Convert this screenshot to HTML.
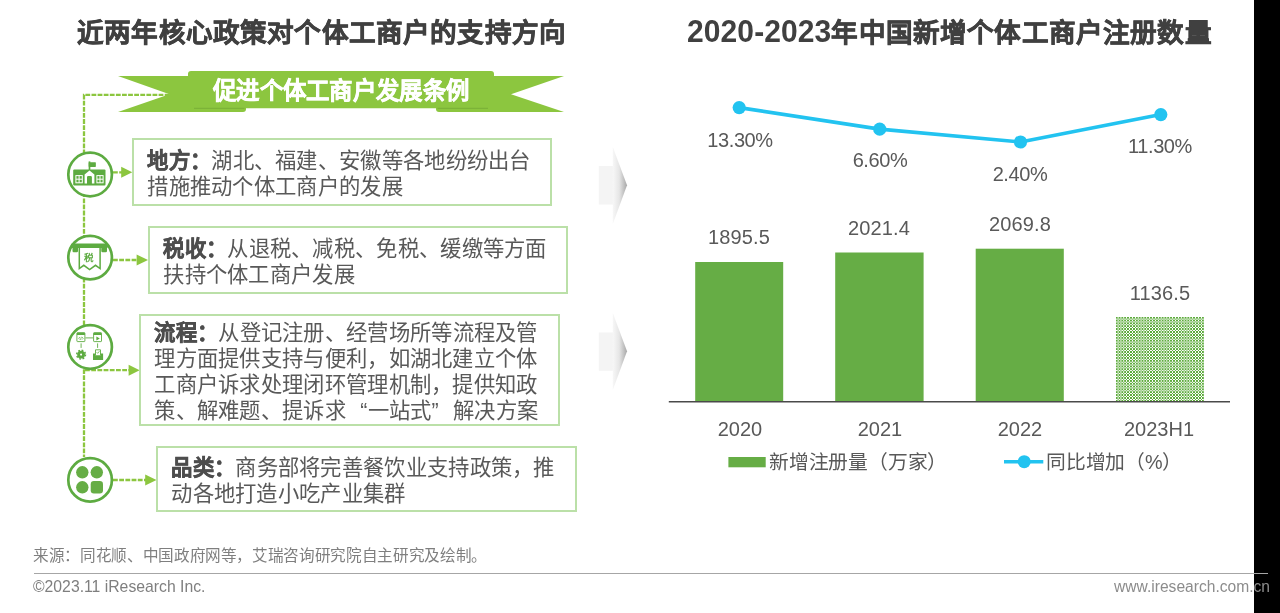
<!DOCTYPE html>
<html lang="zh-CN">
<head>
<meta charset="utf-8">
<title>个体工商户</title>
<style>
html,body{margin:0;padding:0;}
body{width:1280px;height:613px;position:relative;overflow:hidden;background:#fff;font-family:"Liberation Sans",sans-serif;color:#595959;}
body>*{will-change:transform;}
.abs{position:absolute;white-space:nowrap;}
.title{-webkit-text-stroke:0.6px #404040;position:absolute;top:15px;font-size:26.6px;line-height:36px;font-weight:bold;color:#404040;white-space:nowrap;letter-spacing:0.17px;}
.title .d{-webkit-text-stroke:0;display:inline-block;font-size:30px;letter-spacing:0.1px;line-height:36px;vertical-align:-1.2px;transform:translateY(-1.2px) scaleY(1.06);transform-origin:50% 80%;}
#t1{left:76.5px;}
#t2{left:687px;}
#shapes{position:absolute;left:0;top:0;width:1280px;height:613px;}
.ribbontext{-webkit-text-stroke:0.5px #fff;left:213px;top:74.6px;letter-spacing:0.28px;font-size:23.4px;line-height:32px;font-weight:bold;color:#fff;}
.box{position:absolute;box-sizing:border-box;border:2px solid #bbe0a8;background:#fff;width:420px;display:flex;align-items:center;padding-left:13.3px;}
.box p{margin:0;position:relative;top:3px;letter-spacing:0.3px;font-size:21.33px;line-height:25.8px;color:#595959;white-space:nowrap;}
.box b{color:#4d4d4d;-webkit-text-stroke:0.5px #4d4d4d;}
.num{position:absolute;font-size:20px;line-height:24px;color:#595959;text-align:center;width:120px;white-space:nowrap;letter-spacing:-0.4px;}
.leg{position:absolute;letter-spacing:-0.2px;font-size:19.8px;line-height:26px;color:#595959;white-space:nowrap;}
#src{left:32.8px;top:545.2px;font-size:15.6px;line-height:22px;color:#7f7f7f;letter-spacing:-0.35px;}
#cp{left:32.8px;top:578px;font-size:15.75px;line-height:18px;color:#7f7f7f;}
#www{right:9.8px;top:578px;font-size:15.6px;line-height:18px;color:#8c8c8c;}
#strip{position:absolute;left:1254px;top:0;width:26px;height:613px;background:#000;}
#hr{position:absolute;left:33.5px;top:572.5px;width:1233.5px;height:1px;background:#a6a6a6;}
#bar4{position:absolute;left:1116px;top:317px;width:88px;height:84px;isolation:isolate;overflow:hidden;}
#bar4 i{position:absolute;left:0;top:0;right:0;bottom:0;
 background-image:repeating-linear-gradient(90deg,#000 0,#000 1.3px,#fff 1.9px,#fff 2.27px,#000 2.870px),
 repeating-linear-gradient(180deg,#000 0,#000 1.3px,#fff 1.9px,#fff 2.27px,#000 2.870px);
 background-blend-mode:exclusion;}
#bar4:after{content:"";position:absolute;left:0;top:0;right:0;bottom:0;background:#5dab3c;mix-blend-mode:screen;}
</style>
</head>
<body>
<div id="strip"></div>

<div class="title" id="t1">近两年核心政策对个体工商户的支持方向</div>
<div class="title" id="t2"><span class="d">2020-2023</span>年中国新增个体工商户注册数量</div>

<svg id="shapes" viewBox="0 0 1280 613">
  <defs>
    <linearGradient id="ga" x1="0" y1="0" x2="1" y2="0">
      <stop offset="0" stop-color="#f7f7f7"/>
      <stop offset="0.45" stop-color="#e6e6e6"/>
      <stop offset="1" stop-color="#a8a8a8"/>
    </linearGradient>
  </defs>

  <!-- dashed connector -->
  <path d="M169.5 94.8 H84 V457" fill="none" stroke="#8cc63f" stroke-width="2.3" stroke-dasharray="4.8 1.3"/>

  <!-- ribbon -->
  <path d="M118 76 H200 V112 H118 L169.5 94.2 Z" fill="#8cc63f"/>
  <path d="M190 100 H243 Q246 100 246 103 V109 Q246 112 243 112 H190 Z" fill="#8cc63f"/>
  <path d="M564 76 H482 V112 H564 L511 94.2 Z" fill="#8cc63f"/>
  <path d="M492 100 H439 Q436 100 436 103 V109 Q436 112 439 112 H492 Z" fill="#8cc63f"/>
  <path d="M191 71 H491 Q494 71 494 74 V108.3 H188 V74 Q188 71 191 71 Z" fill="#8cc63f"/>
  <path d="M194 108.3 H244.5" stroke="#78ae38" stroke-width="1" fill="none"/>
  <path d="M437.5 108.3 H488" stroke="#78ae38" stroke-width="1" fill="none"/>

  <!-- gray arrows -->
  <rect x="598.8" y="166" width="14.2" height="38.5" fill="#f4f4f4"/>
  <path d="M612.8 147 L627 185.3 L612.8 224 Z" fill="url(#ga)"/>
  <rect x="598.8" y="332.5" width="14.2" height="38.3" fill="#f4f4f4"/>
  <path d="M612.8 313 L627 351.3 L612.8 390 Z" fill="url(#ga)"/>

  <!-- arrows to boxes -->
  <g stroke="#8cc63f" stroke-width="2.3" stroke-dasharray="4.8 1.4" fill="none">
    <path d="M113 172.3 H122"/>
    <path d="M113 260 H137"/>
    <path d="M85 370.2 H129"/>
    <path d="M113 480 H146"/>
  </g>
  <g fill="#8cc63f">
    <path d="M121.2 166.8 L132.3 172.3 L121.2 177.8 Z"/>
    <path d="M136.6 254.5 L148 260 L136.6 265.5 Z"/>
    <path d="M128.6 364.7 L139.6 370.2 L128.6 375.7 Z"/>
    <path d="M145.2 474.5 L156.5 480 L145.2 485.5 Z"/>
  </g>

  <!-- icon circles -->
  <g fill="#fff" stroke="#5dab41" stroke-width="2.7">
    <circle cx="90.1" cy="174.5" r="21.8"/>
    <circle cx="90.1" cy="257.6" r="21.8"/>
    <circle cx="90.1" cy="347" r="21.8"/>
    <circle cx="90.1" cy="479.9" r="21.8"/>
  </g>

  <!-- icon 1: school -->
  <g id="ic1">
    <rect x="73.2" y="169.6" width="32.3" height="16" rx="1" fill="#5dab41"/>
    <rect x="88.65" y="161.4" width="1.7" height="9.5" fill="#5dab41"/>
    <rect x="88.65" y="162.2" width="7.2" height="4.7" rx="0.6" fill="#5dab41"/>
    <path d="M84.6 183.4 V174.6 L89.5 170.4 L94.4 174.6 V183.4 H91.9 V177.3 Q91.9 176.1 90.7 176.1 H88.2 Q87 176.1 87 177.3 V183.4 Z" fill="#fff"/>
    <g fill="none" stroke="#fff" stroke-width="1">
      <rect x="75.9" y="175.6" width="6.4" height="7.2"/>
      <path d="M79.1 175.6 V182.8 M75.9 179.2 H82.3"/>
      <rect x="96.9" y="175.6" width="6.2" height="7.2"/>
      <path d="M100 175.6 V182.8 M96.9 179.2 H103.1"/>
    </g>
  </g>
  <!-- icon 2: tax -->
  <g id="ic2">
    <rect x="71" y="243.6" width="37" height="4.5" rx="1.4" fill="#5dab41"/>
    <path d="M72.5 246 H78 V251 Q78 252.2 76.8 252.2 H73.7 Q72.5 252.2 72.5 251 Z" fill="#5dab41"/>
    <path d="M101.3 246 H107 V251 Q107 252.2 105.8 252.2 H102.5 Q101.3 252.2 101.3 251 Z" fill="#5dab41"/>
    <path d="M79.3 248 V268.6 L83.8 265.3 L89.6 269.6 L95.5 265.3 L100.1 268.6 V248" fill="#fff" stroke="#5dab41" stroke-width="1.5" stroke-linejoin="miter"/>
    <text x="89.3" y="261.3" font-size="9.6" font-weight="bold" text-anchor="middle" fill="#5dab41" font-family="&quot;Liberation Sans&quot;, sans-serif">税</text>
  </g>
  <!-- icon 3: process -->
  <g id="ic3" fill="none" stroke="#5dab41" stroke-width="0.9">
    <rect x="76.9" y="332.7" width="8" height="8.9" rx="0.6"/>
    <rect x="93.6" y="332.7" width="7.9" height="8.9" rx="0.6"/>
    <path d="M76.9 333.9 H84.9 M93.6 333.9 H101.5" stroke-width="2.2"/>
    <path d="M85.4 337.9 H93.1 M81.1 343.4 V347.9 M97.6 343.4 V347.9"/>
    <path d="M79.9 337 L78.7 338.3 L79.9 339.6 M82 337 L83.2 338.3 L82 339.6 M81.4 336.8 L80.5 339.8" stroke-width="0.7"/>
    <path d="M96.4 336.6 L99.8 338.5 L96.4 340.4 Z" fill="#5dab41" stroke="none"/>
    <circle cx="81.1" cy="354.6" r="2.5" stroke-width="2.9"/>
    <circle cx="81.1" cy="354.6" r="4.4" stroke-width="1.5" stroke-dasharray="1.75 1.7"/>
    <path d="M93 353.4 H95.4 V355.2 H100.6 V353.4 H103.1 V359.9 H93 Z" fill="#5dab41" stroke="none"/>
    <path d="M95.5 355 V349.8 H100.5 V355" stroke-width="0.9"/>
    <path d="M96.7 352.3 L97.7 353.3 L99.4 351.2" stroke-width="0.8"/>
  </g>
  <!-- icon 4: category -->
  <g id="ic4" fill="#66ad45">
    <circle cx="82.3" cy="472.3" r="6.2"/>
    <circle cx="96.8" cy="472.3" r="6.2"/>
    <circle cx="82.3" cy="487.3" r="6.2"/>
    <rect x="90.7" y="481.1" width="12.3" height="12.4" rx="3.2"/>
  </g>

  <!-- chart -->
  <g fill="#66ad45">
    <rect x="695.2" y="262" width="88" height="140"/>
    <rect x="835.2" y="252.5" width="88.4" height="149.5"/>
    <rect x="975.7" y="248.7" width="88.1" height="153.3"/>
  </g>
  <path d="M668.8 401.8 H1230" stroke="#4a4a4a" stroke-width="1.6" fill="none"/>
  <path d="M739.2 107.6 L879.7 129.1 L1020.5 142 L1160.8 114.6" fill="none" stroke="#22c3f0" stroke-width="3.6" stroke-linejoin="round"/>
  <g fill="#22c3f0">
    <circle cx="739.2" cy="107.6" r="6.6"/>
    <circle cx="879.7" cy="129.1" r="6.6"/>
    <circle cx="1020.5" cy="142" r="6.6"/>
    <circle cx="1160.8" cy="114.6" r="6.6"/>
  </g>
  <!-- legend -->
  <rect x="728.4" y="457" width="37.3" height="10.3" fill="#66ad45"/>
  <path d="M1004 461.7 H1043.3" stroke="#22c3f0" stroke-width="3.6" fill="none"/>
  <circle cx="1024.2" cy="461.7" r="6.5" fill="#22c3f0"/>
</svg>

<div id="bar4"><i></i></div>

<div class="abs ribbontext">促进个体工商户发展条例</div>

<div class="box" style="left:132px;top:138px;height:67.5px;width:420px;"><p><b>地方：</b>湖北、福建、安徽等各地纷纷出台<br>措施推动个体工商户的发展</p></div>
<div class="box" style="left:147.8px;top:226.2px;height:67.5px;width:420.2px;"><p><b>税收：</b>从退税、减税、免税、缓缴等方面<br>扶持个体工商户发展</p></div>
<div class="box" style="left:138.6px;top:314.4px;height:112px;width:421.4px;"><p><b>流程：</b>从登记注册、经营场所等流程及管<br>理方面提供支持与便利，如湖北建立个体<br>工商户诉求处理闭环管理机制，提供知政<br>策、解难题、提诉求<span style="padding-left:14.2px">“</span>一站式<span style="padding-right:14.2px">”</span>解决方案</p></div>
<div class="box" style="left:155.7px;top:446.4px;height:66px;width:421.3px;"><p><b>品类：</b>商务部将完善餐饮业支持政策，推<br>动各地打造小吃产业集群</p></div>

<!-- percent labels -->
<div class="num" style="left:679.7px;top:127.5px;">13.30%</div>
<div class="num" style="left:819.5px;top:148.2px;">6.60%</div>
<div class="num" style="left:959.6px;top:161.5px;">2.40%</div>
<div class="num" style="left:1100.2px;top:133.6px;">11.30%</div>
<!-- bar labels -->
<div class="num" style="left:679.2px;top:224.6px;letter-spacing:0.1px;">1895.5</div>
<div class="num" style="left:819.4px;top:215.6px;letter-spacing:0.1px;">2021.4</div>
<div class="num" style="left:959.6px;top:211.7px;letter-spacing:0.1px;">2069.8</div>
<div class="num" style="left:1100px;top:280.5px;letter-spacing:0.1px;">1136.5</div>
<!-- x labels -->
<div class="num" style="left:679.5px;top:416.8px;letter-spacing:0;">2020</div>
<div class="num" style="left:819.5px;top:416.8px;letter-spacing:0;">2021</div>
<div class="num" style="left:960px;top:416.8px;letter-spacing:0;">2022</div>
<div class="num" style="left:1099px;top:416.8px;letter-spacing:0;">2023H1</div>

<div class="leg" style="left:768.6px;top:449px;">新增注册量（万家）</div>
<div class="leg" style="left:1046.2px;top:449px;">同比增加（%）</div>

<div class="abs" id="src">来源：同花顺、中国政府网等，艾瑞咨询研究院自主研究及绘制。</div>
<div id="hr"></div>
<div class="abs" id="cp">©2023.11 iResearch Inc.</div>
<div class="abs" id="www">www.iresearch.com.cn</div>
</body>
</html>
